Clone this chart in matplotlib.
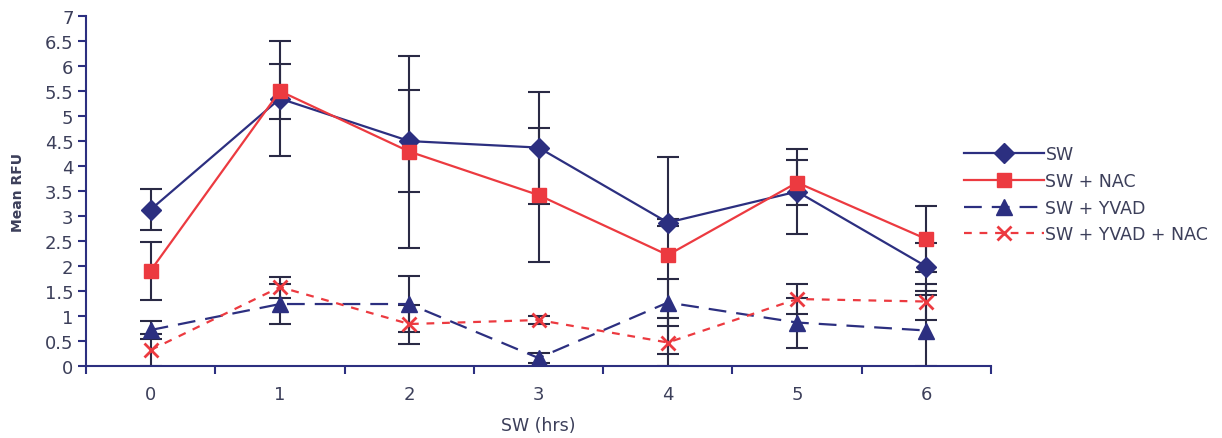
import matplotlib
matplotlib.use("Agg")
from matplotlib import pyplot as plt
from matplotlib.ticker import MultipleLocator, FixedLocator

hours = [0, 1, 2, 3, 4, 5, 6]

sw = [3.13, 5.35, 4.5, 4.37, 2.87, 3.49, 1.99]
sw_err = [0.41, 1.15, 1.02, 1.12, 0.07, 0.85, 0.48]

sw_nac = [1.91, 5.5, 4.29, 3.42, 2.22, 3.67, 2.54]
sw_nac_err = [0.58, 0.55, 1.92, 1.34, 1.97, 0.45, 0.66]

sw_yvad = [0.72, 1.24, 1.24, 0.16, 1.27, 0.87, 0.71]
sw_yvad_err = [0.18, 0.4, 0.56, 0.1, 0.47, 0.5, 0.71]

sw_yvad_nac = [0.32, 1.58, 0.84, 0.92, 0.47, 1.34, 1.29]
sw_yvad_nac_err = [0.32, 0.21, 0.39, 0.08, 0.49, 0.3, 0.36]

navy = "#2c2f80"
red = "#ec3a40"
errc = "#2a2a45"
textc = "#3c3f5a"

fig = plt.figure(figsize=(12.22, 4.39), dpi=100)
ax = fig.add_axes([0.0704, 0.164, 0.7406, 0.797])

series = [
    ("SW", sw, sw_err, navy, "-", "D", 10),
    ("SW + NAC", sw_nac, sw_nac_err, red, "-", "s", 10),
    ("SW + YVAD", sw_yvad, sw_yvad_err, navy, (0, (8, 4.5)), "^", 11),
    ("SW + YVAD + NAC", sw_yvad_nac, sw_yvad_nac_err, red, (0, (3.5, 3.5)), "x", 10),
]

for label, vals, errs, col, ls, mk, ms in series:
    lo = [min(e, v) for v, e in zip(vals, errs)]
    ax.errorbar(hours, vals, yerr=[lo, errs], fmt="none", ecolor=errc,
                elinewidth=1.5, capsize=8, capthick=1.5, zorder=2)
    ax.plot(hours, vals, color=col, linestyle=ls, linewidth=1.6, marker=mk,
            markersize=ms, markeredgewidth=2 if mk == "x" else 1,
            markeredgecolor=col, markerfacecolor=col, label=label, zorder=3)

ax.set_xlim(-0.5, 6.5)
ax.set_ylim(0, 7)
ax.yaxis.set_major_locator(MultipleLocator(0.5))
ax.set_yticklabels([f"{v:g}" for v in ax.get_yticks()])
ax.xaxis.set_major_locator(FixedLocator(hours))
ax.xaxis.set_minor_locator(FixedLocator([h + 0.5 for h in [-1] + hours]))
ax.tick_params(axis="x", which="major", length=0, pad=14, labelsize=13, labelcolor=textc)
ax.tick_params(axis="x", which="minor", length=6, width=1.5, direction="out", color=navy)
ax.tick_params(axis="y", length=6, width=1.5, direction="out", color=navy,
               labelsize=13, labelcolor=textc, pad=3)

for s in ["top", "right"]:
    ax.spines[s].set_visible(False)
for s in ["left", "bottom"]:
    ax.spines[s].set_color(navy)
    ax.spines[s].set_linewidth(1.5)

ax.set_xlabel("SW (hrs)", fontsize=12.5, color=textc, labelpad=9)
ax.set_ylabel("Mean RFU", fontsize=10, fontweight="bold", color=textc, labelpad=14)

leg = fig.legend(loc="upper left", bbox_to_anchor=(0.776, 0.702), frameon=False,
                 fontsize=12.5, handlelength=4.6, handletextpad=0.1, labelspacing=0.5)
for t in leg.get_texts():
    t.set_color(textc)

fig.savefig("out.png", dpi=100)
